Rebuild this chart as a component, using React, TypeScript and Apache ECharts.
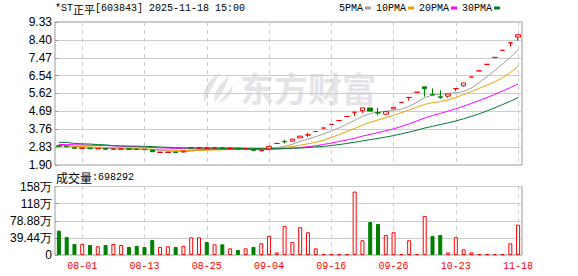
import React, { useEffect, useRef } from 'react';
import * as echarts from 'echarts';

const dates = [
  '07-29', '07-30', '07-31', '08-01', '08-04', '08-05', '08-06', '08-07', '08-08', '08-11',
  '08-12', '08-13', '08-14', '08-15', '08-18', '08-19', '08-20', '08-21', '08-22', '08-25',
  '08-26', '08-27', '08-28', '08-29', '09-01', '09-02', '09-03', '09-04', '09-05', '09-08',
  '09-09', '09-10', '09-11', '09-12', '09-15', '09-16', '09-17', '09-18', '09-19', '09-22',
  '09-23', '09-24', '09-25', '09-26', '09-29', '09-30', '10-17', '10-18', '10-20', '10-21',
  '10-22', '10-23', '11-07', '11-10', '11-11', '11-12', '11-13', '11-14', '11-17', '11-18',
];
const labelDates = ['08-01', '08-13', '08-25', '09-04', '09-16', '09-26', '10-23', '11-18'];

const opens = [
  2.90, 2.88, 2.80, 2.76, 2.77, 2.74, 2.75, 2.71, 2.72, 2.74,
  2.73, 2.71, 2.68, 2.55, 2.55, 2.57, 2.58, 2.80, 2.79, 2.78,
  2.78, 2.80, 2.76, 2.77, 2.74, 2.70, 2.64, 2.74, 3.02, 3.12,
  3.14, 3.31, 3.45, 3.64, 3.82, 4.01, 4.21, 4.42, 4.64, 4.72,
  4.86, 4.62, 4.54, 4.82, 5.15, 5.41, 5.68, 5.96, 5.56, 5.44,
  5.48, 5.87, 6.02, 6.47, 6.79, 7.13, 7.49, 7.86, 8.25, 8.55,
];
const closes = [
  2.88, 2.85, 2.77, 2.78, 2.75, 2.76, 2.72, 2.73, 2.74, 2.72,
  2.71, 2.70, 2.59, 2.57, 2.57, 2.55, 2.62, 2.79, 2.80, 2.79,
  2.81, 2.77, 2.78, 2.75, 2.76, 2.66, 2.67, 2.87, 3.02, 3.11,
  3.24, 3.40, 3.47, 3.64, 3.82, 4.01, 4.21, 4.42, 4.64, 4.87,
  4.70, 4.60, 4.67, 4.90, 5.15, 5.41, 5.68, 5.86, 5.54, 5.42,
  5.59, 5.87, 6.16, 6.47, 6.79, 7.13, 7.49, 7.86, 8.25, 8.67,
];
const lows = [
  2.85, 2.83, 2.76, 2.75, 2.72, 2.73, 2.71, 2.70, 2.71, 2.70,
  2.70, 2.69, 2.58, 2.54, 2.54, 2.54, 2.56, 2.74, 2.76, 2.76,
  2.77, 2.75, 2.75, 2.74, 2.73, 2.64, 2.62, 2.73, 3.02, 3.01,
  3.12, 3.30, 3.35, 3.64, 3.82, 4.01, 4.21, 4.42, 4.45, 4.60,
  4.68, 4.47, 4.50, 4.80, 5.15, 5.25, 5.68, 5.45, 5.53, 5.34,
  5.40, 5.74, 5.97, 6.47, 6.79, 7.13, 7.49, 7.86, 8.05, 8.36,
];
const highs = [
  2.94, 2.90, 2.81, 2.80, 2.78, 2.77, 2.76, 2.75, 2.75, 2.74,
  2.74, 2.72, 2.70, 2.58, 2.58, 2.58, 2.64, 2.84, 2.84, 2.85,
  2.83, 2.81, 2.79, 2.78, 2.77, 2.71, 2.68, 2.89, 3.02, 3.22,
  3.26, 3.41, 3.57, 3.64, 3.82, 4.01, 4.21, 4.42, 4.64, 4.87,
  4.87, 4.87, 4.70, 4.90, 5.15, 5.41, 5.68, 5.96, 5.88, 5.78,
  5.60, 5.87, 6.16, 6.47, 6.79, 7.13, 7.49, 7.86, 8.25, 8.67,
];

const ma5 = [
  2.92, 2.90, 2.86, 2.83, 2.81, 2.78, 2.76, 2.75, 2.74, 2.73,
  2.72, 2.72, 2.69, 2.66, 2.63, 2.60, 2.58, 2.62, 2.67, 2.71,
  2.76, 2.79, 2.79, 2.78, 2.77, 2.74, 2.72, 2.74, 2.80, 2.87,
  2.98, 3.13, 3.25, 3.37, 3.51, 3.67, 3.83, 4.02, 4.22, 4.43,
  4.57, 4.65, 4.70, 4.75, 4.80, 4.95, 5.16, 5.40, 5.53, 5.58,
  5.62, 5.66, 5.72, 5.90, 6.18, 6.48, 6.81, 7.15, 7.50, 7.88,
];
const ma10 = [
  2.90, 2.89, 2.87, 2.86, 2.84, 2.83, 2.81, 2.80, 2.78, 2.77,
  2.75, 2.74, 2.72, 2.70, 2.68, 2.66, 2.65, 2.66, 2.66, 2.67,
  2.68, 2.69, 2.71, 2.72, 2.74, 2.75, 2.76, 2.77, 2.79, 2.82,
  2.86, 2.93, 3.00, 3.08, 3.19, 3.33, 3.48, 3.63, 3.80, 3.97,
  4.12, 4.24, 4.36, 4.48, 4.62, 4.76, 4.90, 5.05, 5.14, 5.19,
  5.28, 5.41, 5.56, 5.72, 5.88, 6.05, 6.23, 6.43, 6.70, 7.03,
];
const ma20 = [
  2.97, 2.96, 2.95, 2.94, 2.93, 2.92, 2.91, 2.90, 2.88, 2.87,
  2.85, 2.83, 2.81, 2.79, 2.78, 2.76, 2.75, 2.74, 2.73, 2.72,
  2.72, 2.71, 2.71, 2.71, 2.71, 2.71, 2.70, 2.71, 2.73, 2.75,
  2.77, 2.81, 2.85, 2.90, 2.97, 3.04, 3.12, 3.20, 3.29, 3.40,
  3.49, 3.58, 3.68, 3.78, 3.90, 4.04, 4.19, 4.34, 4.47, 4.58,
  4.70, 4.82, 4.96, 5.10, 5.25, 5.40, 5.57, 5.74, 5.92, 6.11,
];
const ma30 = [
  3.08, 3.07, 3.02, 3.00, 2.99, 2.96, 2.95, 2.90, 2.89, 2.88,
  2.88, 2.87, 2.86, 2.83, 2.82, 2.80, 2.79, 2.79, 2.78, 2.78,
  2.77, 2.77, 2.77, 2.77, 2.76, 2.76, 2.75, 2.75, 2.75, 2.75,
  2.77, 2.78, 2.81, 2.84, 2.87, 2.91, 2.96, 3.02, 3.08, 3.15,
  3.22, 3.28, 3.35, 3.43, 3.52, 3.61, 3.71, 3.82, 3.91, 4.00,
  4.09, 4.19, 4.30, 4.43, 4.56, 4.71, 4.87, 5.04, 5.21, 5.40,
];

const volumes = [
  560000, 416000, 254000, 254000, 230000, 200000, 230000, 254000, 230000, 185000,
  210000, 185000, 346000, 185000, 200000, 185000, 210000, 408000, 408000, 300000,
  246000, 246000, 154000, 115000, 154000, 185000, 270000, 440000, 60000, 670000,
  300000, 640000, 524000, 154000, 20000, 18000, 17000, 19000, 1460000, 340000,
  760000, 716000, 460000, 524000, 21000, 340000, 22000, 900000, 440000, 460000,
  60000, 410000, 130000, 60000, 20000, 18000, 17000, 16000, 270000, 698292,
];
const volumeUp = [
  0, 0, 0, 1, 0, 1, 0, 1, 1, 0,
  0, 0, 0, 1, 1, 0, 1, 1, 1, 0,
  1, 0, 1, 0, 1, 0, 1, 1, 1, 1,
  1, 1, 1, 1, 1, 1, 1, 1, 1, 1,
  0, 0, 1, 1, 1, 1, 1, 1, 0, 0,
  1, 1, 1, 1, 1, 1, 1, 1, 1, 1,
];

const priceTicks = [1.90, 2.83, 3.76, 4.69, 5.62, 6.54, 7.47, 8.40, 9.33];
const volumeTicks = [0, 394400, 788800, 1183200, 1577600];

const maNames = ['5PMA', '10PMA', '20PMA', '30PMA'];
const maColors = ['#a0a0a0', '#f0a000', '#ff00ff', '#007a33'];

let logoRegistered = false;
function registerLogo() {
  if (logoRegistered) return;
  logoRegistered = true;
  echarts.graphic.registerShape(
    'emlogo',
    echarts.graphic.extendPath(
      'M20 0 C8 7 1 17 5 30 C8 21 13 12 20 0 Z M29 3 C19 11 13 20 15 30 C20 22 26 15 29 3 Z M33 12 C27 20 22 26 18 30 C26 28 32 22 33 12 Z',
      {}
    ) as any
  );
}

const monoFont = '"Liberation Mono", "DejaVu Sans Mono", monospace';
const cjkFont = '"Noto Sans CJK SC", sans-serif';

export default function App() {
  const ref = useRef<HTMLDivElement>(null);

  useEffect(() => {
    if (!ref.current) return;
    registerLogo();
    const chart = echarts.init(ref.current, undefined, { renderer: 'svg' });

    const labelInterval = (_i: number, v: string) => labelDates.includes(v);
    const vSplit = {
      show: true,
      interval: labelInterval,
      alignWithLabel: true,
      lineStyle: { color: '#cccccc', type: [4, 4] as any, width: 1 },
    };

    const option: any = {
      animation: false,
      backgroundColor: '#ffffff',
      title: [
        {
          text: '{a|*ST}{b|正平}{a|[603843] 2025-11-18 15:00}',
          left: 55,
          top: 3,
          padding: 0,
          textStyle: {
            fontWeight: 'normal',
            rich: {
              a: { fontFamily: monoFont, fontSize: 10, color: '#000', fontWeight: 'normal' },
              b: { fontFamily: cjkFont, fontSize: 11, color: '#000', fontWeight: 'normal' },
            },
          },
        },
        {
          text: '{b|成交量}{a|:698292}',
          left: 56,
          top: 171,
          padding: 0,
          textStyle: {
            fontWeight: 'normal',
            rich: {
              a: { fontFamily: monoFont, fontSize: 10, color: '#000', fontWeight: 'normal' },
              b: { fontFamily: cjkFont, fontSize: 12, color: '#000', fontWeight: 'normal' },
            },
          },
        },
      ],
      legend: {
        data: maNames,
        left: 339,
        top: 3,
        padding: 0,
        align: 'right',
        icon: 'rect',
        itemWidth: 6,
        itemHeight: 3,
        itemGap: 5,
        textStyle: { fontFamily: monoFont, fontSize: 10, color: '#000', padding: [0, -3, 0, 0] },
        selectedMode: false,
      },
      graphic: [
        {
          type: 'emlogo',
          x: 200,
          y: 73,
          z: -10,
          silent: true,
          style: { fill: '#e4e4e8' },
        },
        {
          type: 'text',
          x: 240,
          y: 70,
          z: -10,
          silent: true,
          style: {
            text: '东方财富',
            font: 'bold 34px "Noto Sans CJK SC"',
            fill: '#e4e4e8',
          },
        },
      ],
      grid: [
        { left: 55, right: 56, top: 22, height: 143, show: true, borderColor: '#999', borderWidth: 1, backgroundColor: 'transparent' },
        { left: 55, right: 56, top: 186.5, height: 68.5, show: true, borderColor: '#999', borderWidth: 1, backgroundColor: 'transparent' },
      ],
      xAxis: [
        {
          type: 'category',
          gridIndex: 0,
          data: dates,
          boundaryGap: true,
          axisLine: { show: false },
          axisTick: { show: false },
          axisLabel: { show: false },
          splitLine: vSplit,
        },
        {
          type: 'category',
          gridIndex: 1,
          data: dates,
          boundaryGap: true,
          axisLine: { show: false },
          axisTick: { show: false },
          axisLabel: {
            show: true,
            interval: labelInterval,
            color: '#ff0000',
            fontFamily: monoFont,
            fontSize: 10,
            margin: 6,
          },
          splitLine: vSplit,
        },
      ],
      yAxis: [
        {
          type: 'value',
          gridIndex: 0,
          min: 1.9,
          max: 9.33,
          axisLine: { show: false },
          axisTick: { show: true, inside: true, length: 3, customValues: priceTicks, lineStyle: { color: '#999' } },
          axisLabel: {
            customValues: priceTicks,
            formatter: (v: number) => v.toFixed(2),
            color: '#000',
            fontFamily: '"Liberation Sans", Arial, sans-serif',
            fontSize: 12,
            margin: 3,
          },
          splitLine: { show: true, lineStyle: { color: '#cccccc', width: 1 } },
        },
        {
          type: 'value',
          gridIndex: 1,
          min: 0,
          max: 1577600,
          interval: 394400,
          axisLine: { show: false },
          axisTick: { show: true, inside: true, length: 3, customValues: volumeTicks, lineStyle: { color: '#999' } },
          axisLabel: {
            customValues: volumeTicks,
            formatter: (v: number) => {
              if (v === 0) return '0';
              const w = v / 10000;
              return (w >= 100 ? String(Math.round(w)) : w.toFixed(2)) + '万';
            },
            color: '#000',
            fontFamily: '"Liberation Sans", Arial, sans-serif',
            fontSize: 12,
            margin: 3,
          },
          splitLine: { show: true, lineStyle: { color: '#cccccc', width: 1 } },
        },
      ],
      series: [
        ...[ma5, ma10, ma20, ma30].map((arr, k) => ({
          name: maNames[k],
          type: 'line',
          xAxisIndex: 0,
          yAxisIndex: 0,
          data: arr,
          symbol: 'none',
          showSymbol: false,
          z: 2,
          lineStyle: { color: maColors[k], width: 1 },
          itemStyle: { color: maColors[k] },
        })),
        {
          name: 'K',
          type: 'candlestick',
          xAxisIndex: 0,
          yAxisIndex: 0,
          z: 3,
          barWidth: 5,
          data: dates.map((_, i) => [opens[i], closes[i], lows[i], highs[i]]),
          itemStyle: {
            color: '#ffffff',
            color0: '#008000',
            borderColor: '#ff0000',
            borderColor0: '#008000',
            borderWidth: 1,
          },
        },
        {
          name: 'VOL',
          type: 'bar',
          xAxisIndex: 1,
          yAxisIndex: 1,
          barWidth: 4,
          data: volumes.map((v, i) => ({
            value: v,
            itemStyle: volumeUp[i]
              ? { color: '#ffffff', borderColor: '#ff0000', borderWidth: 1 }
              : { color: '#008000', borderColor: '#008000', borderWidth: 1 },
          })),
        },
      ],
    };

    chart.setOption(option);
    return () => {
      chart.dispose();
    };
  }, []);

  return (
    <div
      ref={ref}
      style={{ position: 'fixed', left: 0, top: 0, width: 578, height: 276 }}
    />
  );
}
